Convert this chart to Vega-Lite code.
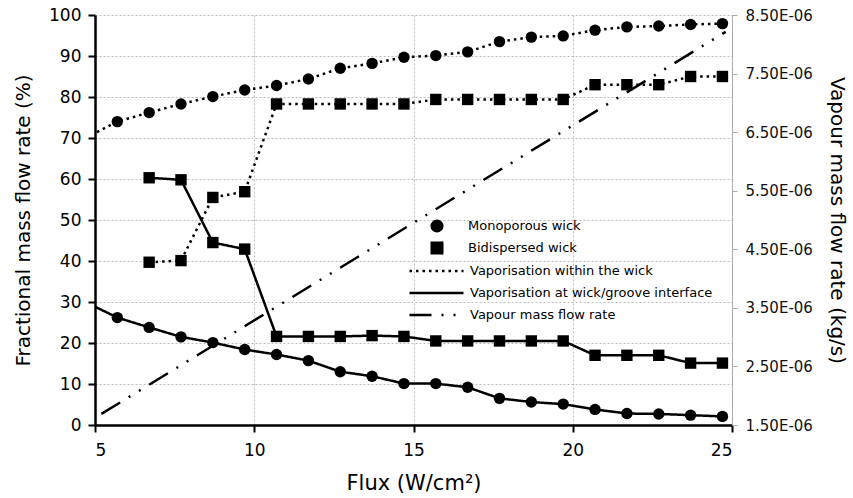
{
  "$schema": "https://vega.github.io/schema/vega-lite/v6.json",
  "width": 637,
  "height": 410,
  "autosize": "none",
  "padding": {"left": 95, "top": 15, "right": 121, "bottom": 73},
  "background": "white",
  "config": {
    "font": "DejaVu Sans",
    "view": {"stroke": null},
    "axis": {
      "titleFontWeight": "normal",
      "titleColor": "black",
      "labelColor": "black",
      "gridColor": "#bbbbbb",
      "gridDash": [2, 2],
      "gridWidth": 1
    },
    "legend": {"padding": 0, "titleFontSize": 0, "labelLimit": 400}
  },
  "datasets": {
    "frac": [
      {"flux": 4.7, "wick": "Monoporous wick", "mech": "Vaporisation at wick/groove interface", "value": 30.0},
      {"flux": 5.7, "wick": "Monoporous wick", "mech": "Vaporisation at wick/groove interface", "value": 26.2},
      {"flux": 6.7, "wick": "Monoporous wick", "mech": "Vaporisation at wick/groove interface", "value": 23.8},
      {"flux": 7.7, "wick": "Monoporous wick", "mech": "Vaporisation at wick/groove interface", "value": 21.5},
      {"flux": 8.7, "wick": "Monoporous wick", "mech": "Vaporisation at wick/groove interface", "value": 20.1},
      {"flux": 9.7, "wick": "Monoporous wick", "mech": "Vaporisation at wick/groove interface", "value": 18.4},
      {"flux": 10.7, "wick": "Monoporous wick", "mech": "Vaporisation at wick/groove interface", "value": 17.2},
      {"flux": 11.7, "wick": "Monoporous wick", "mech": "Vaporisation at wick/groove interface", "value": 15.7},
      {"flux": 12.7, "wick": "Monoporous wick", "mech": "Vaporisation at wick/groove interface", "value": 13.0},
      {"flux": 13.7, "wick": "Monoporous wick", "mech": "Vaporisation at wick/groove interface", "value": 11.9},
      {"flux": 14.7, "wick": "Monoporous wick", "mech": "Vaporisation at wick/groove interface", "value": 10.1},
      {"flux": 15.7, "wick": "Monoporous wick", "mech": "Vaporisation at wick/groove interface", "value": 10.1},
      {"flux": 16.7, "wick": "Monoporous wick", "mech": "Vaporisation at wick/groove interface", "value": 9.2},
      {"flux": 17.7, "wick": "Monoporous wick", "mech": "Vaporisation at wick/groove interface", "value": 6.5},
      {"flux": 18.7, "wick": "Monoporous wick", "mech": "Vaporisation at wick/groove interface", "value": 5.6},
      {"flux": 19.7, "wick": "Monoporous wick", "mech": "Vaporisation at wick/groove interface", "value": 5.1},
      {"flux": 20.7, "wick": "Monoporous wick", "mech": "Vaporisation at wick/groove interface", "value": 3.8},
      {"flux": 21.7, "wick": "Monoporous wick", "mech": "Vaporisation at wick/groove interface", "value": 2.8},
      {"flux": 22.7, "wick": "Monoporous wick", "mech": "Vaporisation at wick/groove interface", "value": 2.7},
      {"flux": 23.7, "wick": "Monoporous wick", "mech": "Vaporisation at wick/groove interface", "value": 2.4},
      {"flux": 24.7, "wick": "Monoporous wick", "mech": "Vaporisation at wick/groove interface", "value": 2.1},

      {"flux": 4.7, "wick": "Monoporous wick", "mech": "Vaporisation within the wick", "value": 70.0},
      {"flux": 5.7, "wick": "Monoporous wick", "mech": "Vaporisation within the wick", "value": 74.0},
      {"flux": 6.7, "wick": "Monoporous wick", "mech": "Vaporisation within the wick", "value": 76.2},
      {"flux": 7.7, "wick": "Monoporous wick", "mech": "Vaporisation within the wick", "value": 78.3},
      {"flux": 8.7, "wick": "Monoporous wick", "mech": "Vaporisation within the wick", "value": 80.1},
      {"flux": 9.7, "wick": "Monoporous wick", "mech": "Vaporisation within the wick", "value": 81.7},
      {"flux": 10.7, "wick": "Monoporous wick", "mech": "Vaporisation within the wick", "value": 82.8},
      {"flux": 11.7, "wick": "Monoporous wick", "mech": "Vaporisation within the wick", "value": 84.4},
      {"flux": 12.7, "wick": "Monoporous wick", "mech": "Vaporisation within the wick", "value": 87.0},
      {"flux": 13.7, "wick": "Monoporous wick", "mech": "Vaporisation within the wick", "value": 88.2},
      {"flux": 14.7, "wick": "Monoporous wick", "mech": "Vaporisation within the wick", "value": 89.7},
      {"flux": 15.7, "wick": "Monoporous wick", "mech": "Vaporisation within the wick", "value": 90.1},
      {"flux": 16.7, "wick": "Monoporous wick", "mech": "Vaporisation within the wick", "value": 91.0},
      {"flux": 17.7, "wick": "Monoporous wick", "mech": "Vaporisation within the wick", "value": 93.5},
      {"flux": 18.7, "wick": "Monoporous wick", "mech": "Vaporisation within the wick", "value": 94.6},
      {"flux": 19.7, "wick": "Monoporous wick", "mech": "Vaporisation within the wick", "value": 94.9},
      {"flux": 20.7, "wick": "Monoporous wick", "mech": "Vaporisation within the wick", "value": 96.3},
      {"flux": 21.7, "wick": "Monoporous wick", "mech": "Vaporisation within the wick", "value": 97.1},
      {"flux": 22.7, "wick": "Monoporous wick", "mech": "Vaporisation within the wick", "value": 97.3},
      {"flux": 23.7, "wick": "Monoporous wick", "mech": "Vaporisation within the wick", "value": 97.7},
      {"flux": 24.7, "wick": "Monoporous wick", "mech": "Vaporisation within the wick", "value": 97.9},

      {"flux": 6.7, "wick": "Bidispersed wick", "mech": "Vaporisation within the wick", "value": 39.7},
      {"flux": 7.7, "wick": "Bidispersed wick", "mech": "Vaporisation within the wick", "value": 40.1},
      {"flux": 8.7, "wick": "Bidispersed wick", "mech": "Vaporisation within the wick", "value": 55.5},
      {"flux": 9.7, "wick": "Bidispersed wick", "mech": "Vaporisation within the wick", "value": 56.9},
      {"flux": 10.7, "wick": "Bidispersed wick", "mech": "Vaporisation within the wick", "value": 78.3},
      {"flux": 11.7, "wick": "Bidispersed wick", "mech": "Vaporisation within the wick", "value": 78.3},
      {"flux": 12.7, "wick": "Bidispersed wick", "mech": "Vaporisation within the wick", "value": 78.3},
      {"flux": 13.7, "wick": "Bidispersed wick", "mech": "Vaporisation within the wick", "value": 78.3},
      {"flux": 14.7, "wick": "Bidispersed wick", "mech": "Vaporisation within the wick", "value": 78.3},
      {"flux": 15.7, "wick": "Bidispersed wick", "mech": "Vaporisation within the wick", "value": 79.4},
      {"flux": 16.7, "wick": "Bidispersed wick", "mech": "Vaporisation within the wick", "value": 79.4},
      {"flux": 17.7, "wick": "Bidispersed wick", "mech": "Vaporisation within the wick", "value": 79.4},
      {"flux": 18.7, "wick": "Bidispersed wick", "mech": "Vaporisation within the wick", "value": 79.4},
      {"flux": 19.7, "wick": "Bidispersed wick", "mech": "Vaporisation within the wick", "value": 79.4},
      {"flux": 20.7, "wick": "Bidispersed wick", "mech": "Vaporisation within the wick", "value": 83.0},
      {"flux": 21.7, "wick": "Bidispersed wick", "mech": "Vaporisation within the wick", "value": 83.0},
      {"flux": 22.7, "wick": "Bidispersed wick", "mech": "Vaporisation within the wick", "value": 83.0},
      {"flux": 23.7, "wick": "Bidispersed wick", "mech": "Vaporisation within the wick", "value": 85.0},
      {"flux": 24.7, "wick": "Bidispersed wick", "mech": "Vaporisation within the wick", "value": 85.0},

      {"flux": 6.7, "wick": "Bidispersed wick", "mech": "Vaporisation at wick/groove interface", "value": 60.3},
      {"flux": 7.7, "wick": "Bidispersed wick", "mech": "Vaporisation at wick/groove interface", "value": 59.8},
      {"flux": 8.7, "wick": "Bidispersed wick", "mech": "Vaporisation at wick/groove interface", "value": 44.5},
      {"flux": 9.7, "wick": "Bidispersed wick", "mech": "Vaporisation at wick/groove interface", "value": 42.9},
      {"flux": 10.7, "wick": "Bidispersed wick", "mech": "Vaporisation at wick/groove interface", "value": 21.6},
      {"flux": 11.7, "wick": "Bidispersed wick", "mech": "Vaporisation at wick/groove interface", "value": 21.6},
      {"flux": 12.7, "wick": "Bidispersed wick", "mech": "Vaporisation at wick/groove interface", "value": 21.6},
      {"flux": 13.7, "wick": "Bidispersed wick", "mech": "Vaporisation at wick/groove interface", "value": 21.8},
      {"flux": 14.7, "wick": "Bidispersed wick", "mech": "Vaporisation at wick/groove interface", "value": 21.6},
      {"flux": 15.7, "wick": "Bidispersed wick", "mech": "Vaporisation at wick/groove interface", "value": 20.5},
      {"flux": 16.7, "wick": "Bidispersed wick", "mech": "Vaporisation at wick/groove interface", "value": 20.5},
      {"flux": 17.7, "wick": "Bidispersed wick", "mech": "Vaporisation at wick/groove interface", "value": 20.5},
      {"flux": 18.7, "wick": "Bidispersed wick", "mech": "Vaporisation at wick/groove interface", "value": 20.5},
      {"flux": 19.7, "wick": "Bidispersed wick", "mech": "Vaporisation at wick/groove interface", "value": 20.5},
      {"flux": 20.7, "wick": "Bidispersed wick", "mech": "Vaporisation at wick/groove interface", "value": 17.0},
      {"flux": 21.7, "wick": "Bidispersed wick", "mech": "Vaporisation at wick/groove interface", "value": 17.0},
      {"flux": 22.7, "wick": "Bidispersed wick", "mech": "Vaporisation at wick/groove interface", "value": 17.0},
      {"flux": 23.7, "wick": "Bidispersed wick", "mech": "Vaporisation at wick/groove interface", "value": 15.1},
      {"flux": 24.7, "wick": "Bidispersed wick", "mech": "Vaporisation at wick/groove interface", "value": 15.1}
    ],
    "vap": [
      {"flux": 5.2, "mech": "Vapour mass flow rate", "rate": 1.689e-6},
      {"flux": 24.8, "mech": "Vapour mass flow rate", "rate": 8.213e-6}
    ]
  },
  "layer": [
    {
      "data": {"name": "frac"},
      "layer": [
        {
          "mark": {"type": "line", "color": "black", "strokeWidth": 2.5, "clip": true},
          "encoding": {
            "x": {"field": "flux", "type": "quantitative", "scale": {"domain": [5, 25], "nice": false},
              "axis": {"values": [5, 10, 15, 20, 25], "title": "Flux (W/cm²)", "titleFontSize": 21, "titlePadding": 14,
                "labelFontSize": 17, "labelPadding": 10, "domainColor": "black", "domainWidth": 2.5,
                "tickColor": "black", "tickWidth": 2, "tickSize": 7, "grid": true}},
            "y": {"field": "value", "type": "quantitative", "scale": {"domain": [0, 100], "nice": false},
              "axis": {"values": [0, 10, 20, 30, 40, 50, 60, 70, 80, 90, 100], "title": "Fractional mass flow rate (%)",
                "titleFontSize": 20, "titlePadding": 15, "labelFontSize": 17, "labelPadding": 7,
                "domainColor": "black", "domainWidth": 2.5, "tickColor": "black", "tickWidth": 2, "tickSize": 7, "grid": true}},
            "detail": {"field": "wick"},
            "strokeDash": {"field": "mech", "type": "nominal",
              "scale": {"domain": ["Vaporisation within the wick", "Vaporisation at wick/groove interface", "Vapour mass flow rate"],
                "range": [[2.5, 4], [1, 0], [22, 10, 2, 10, 2, 10]]},
              "legend": {"title": null, "orient": "none", "legendX": 313, "legendY": 249,
                "symbolType": "stroke", "symbolSize": 2916, "symbolStrokeWidth": 2.5, "symbolStrokeColor": "black",
                "clipHeight": 14,
                "labelFontSize": 13, "labelOffset": 5, "rowPadding": 8, "labelColor": "black"}}
          }
        },
        {
          "mark": {"type": "point", "filled": true, "color": "black", "opacity": 1, "size": 130, "clip": true},
          "encoding": {
            "x": {"field": "flux", "type": "quantitative"},
            "y": {"field": "value", "type": "quantitative"},
            "shape": {"field": "wick", "type": "nominal",
              "scale": {"domain": ["Monoporous wick", "Bidispersed wick"], "range": ["circle", "square"]},
              "legend": {"title": null, "orient": "none", "legendX": 335, "legendY": 204,
                "symbolSize": 170, "symbolFillColor": "black", "symbolStrokeColor": "black", "symbolStrokeWidth": 0,
                "labelFontSize": 13, "labelOffset": 24, "rowPadding": 8, "labelColor": "black"}}
          }
        }
      ]
    },
    {
      "data": {"name": "vap"},
      "mark": {"type": "line", "color": "black", "strokeWidth": 2.5},
      "encoding": {
        "x": {"field": "flux", "type": "quantitative"},
        "y": {"field": "rate", "type": "quantitative",
          "scale": {"domain": [1.5e-6, 8.5e-6], "nice": false, "zero": false},
          "axis": {"orient": "right", "values": [1.5e-6, 2.5e-6, 3.5e-6, 4.5e-6, 5.5e-6, 6.5e-6, 7.5e-6, 8.5e-6],
            "labelExpr": "replace(upper(format(datum.value, '.2e')), 'E-', 'E-0')",
            "title": "Vapour mass flow rate (kg/s)", "titleFontSize": 20, "titlePadding": 14,
            "labelFontSize": 15, "labelPadding": 8, "labelColor": "#111111",
            "domainColor": "#aaaaaa", "domainWidth": 1, "tickColor": "#aaaaaa", "tickSize": 5, "grid": false}},
        "strokeDash": {"field": "mech", "type": "nominal"}
      }
    }
  ],
  "resolve": {"scale": {"y": "independent"}}
}
